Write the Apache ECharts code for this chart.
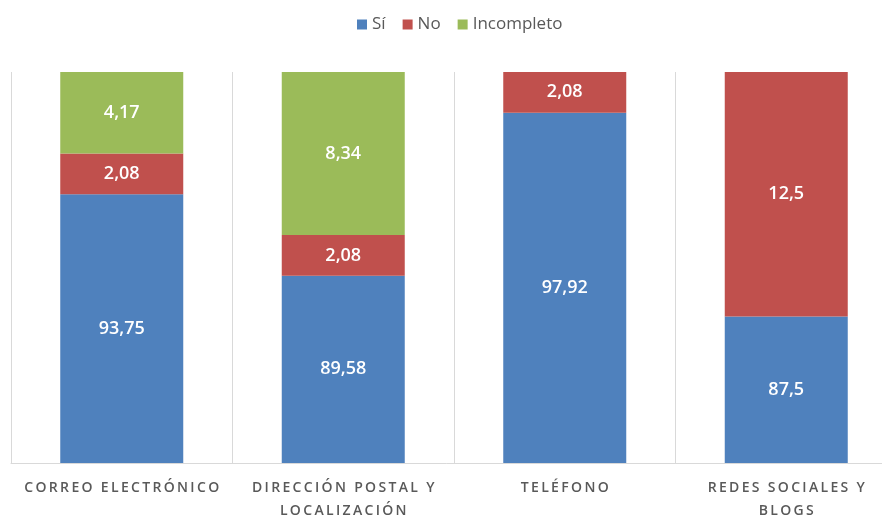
<!DOCTYPE html>
<html>
<head>
<meta charset="utf-8">
<script src="https://cdn.jsdelivr.net/npm/echarts@6/dist/echarts.min.js"></script>
<style>
  html, body { margin: 0; padding: 0; background: #fff; }
  #main { width: 882px; height: 516px; }
</style>
</head>
<body>
<div id="main"></div>
<script>
// categorias del eje x
const categories = ["CORREO ELECTRÓNICO", "DIRECCIÓN POSTAL Y\nLOCALIZACIÓN", "TELÉFONO", "REDES SOCIALES Y\nBLOGS"];
// valores por serie
const siValues = [93.75, 89.58, 97.92, 87.5];
const noValues = [2.08, 2.08, 2.08, 12.5];
const incompletoValues = [4.17, 8.34, null, null];

const seriesNames = ["Sí", "No", "Incompleto"];
const colors = ["#4f81bd", "#c0504d", "#9bbb59"];

let chart = echarts.init(document.getElementById("main"));

// letras espaciadas como en el original
function spaced(text) {
  return text.split("\n").map(line => line.split("").join("\u2009")).join("\n");
}

function makeSeries(name, data, color) {
  return {
    name: name,
    type: "bar",
    stack: "total",
    barWidth: 123,
    data: data,
    itemStyle: { color: color },
    label: {
      show: true,
      position: "inside",
      color: "#fff",
      fontFamily: "Open Sans",
      fontWeight: 600,
      fontSize: 18,
      formatter: p => (p.value == null ? "" : String(p.value).replace(".", ","))
    }
  };
}

let option = {
  animation: false,
  textStyle: { fontFamily: "Open Sans" },
  legend: {
    top: 11,
    left: 352,
    icon: "rect",
    itemWidth: 10,
    itemHeight: 10,
    itemGap: 17,
    textStyle: { color: "#595959", fontSize: 17, fontFamily: "Open Sans" },
    data: seriesNames
  },
  grid: { left: 11, width: 886, top: 72, height: 391, outerBoundsMode: "none", containLabel: false },
  xAxis: {
    type: "category",
    data: categories,
    axisLine: { lineStyle: { color: "#d9d9d9", width: 1 } },
    axisTick: { show: false },
    splitLine: { show: true, lineStyle: { color: "#d9d9d9", width: 1 } },
    axisLabel: {
      margin: 14,
      interval: 0,
      color: "#595959",
      fontSize: 14,
      fontWeight: 600,
      lineHeight: 23,
      fontFamily: "Open Sans",
      formatter: v => spaced(v)
    }
  },
  yAxis: {
    type: "value",
    min: 80,
    max: 100,
    show: false,
    splitLine: { show: false }
  },
  series: [
    makeSeries(seriesNames[0], siValues, colors[0]),
    makeSeries(seriesNames[1], noValues, colors[1]),
    makeSeries(seriesNames[2], incompletoValues, colors[2])
  ]
};

chart.setOption(option);
</script>
</body>
</html>
